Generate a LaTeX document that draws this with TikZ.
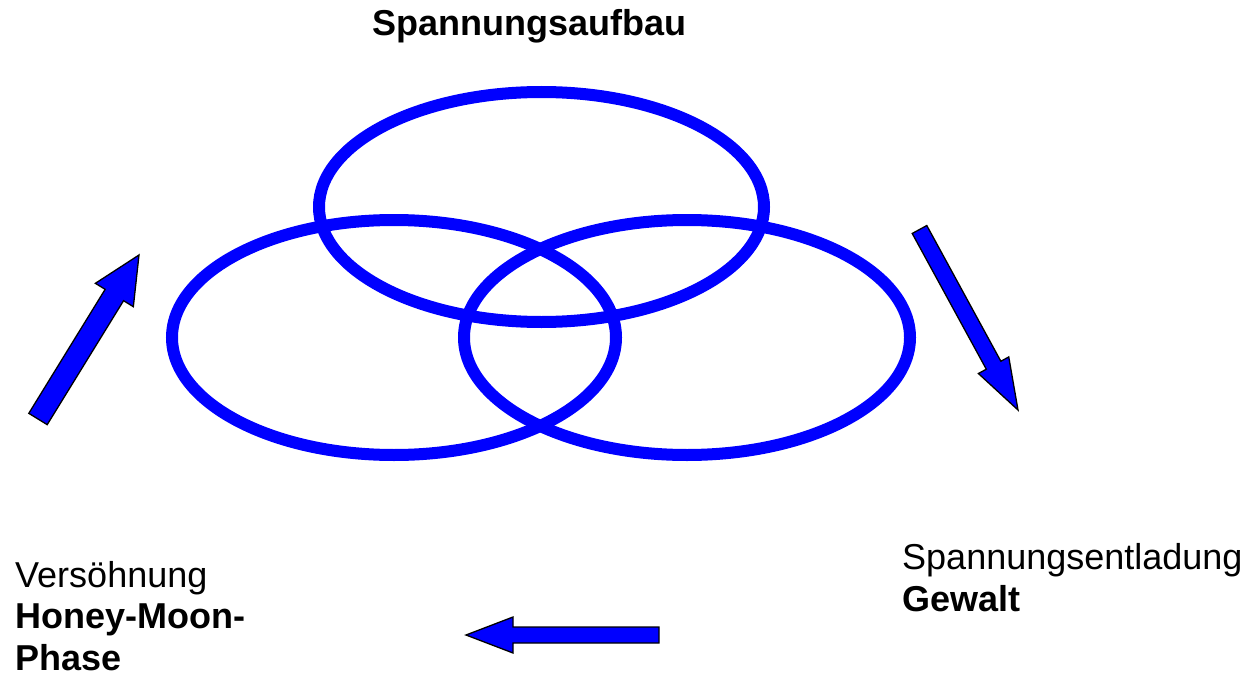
\documentclass[tikz,border=0pt]{standalone}
\usepackage{fontspec}
\setmainfont{Liberation Sans}
\usetikzlibrary{calc}
\definecolor{ringblue}{RGB}{0,0,255}
\tikzset{
  ring/.style={draw=ringblue, line width=12pt},
  blockarrow/.style={fill=ringblue, draw=black, line width=1.3pt, line join=miter},
  lbl/.style={anchor=base west, inner sep=0pt, align=left, font=\fontsize{36}{41.4}\selectfont}
}
% #1 tail, #2 tip, #3 half shaft width, #4 half head width, #5 head length
\newcommand{\blockarr}[5]{%
  \coordinate (#1-hb) at ($(#2)!#5!(#1)$);
  \draw[blockarrow] ($(#1)!#3!90:(#2)$) -- ($(#1-hb)!#3!-90:(#1)$) -- ($(#1-hb)!#4!-90:(#1)$)
     -- (#2) -- ($(#1-hb)!#4!90:(#1)$) -- ($(#1-hb)!#3!90:(#1)$) -- ($(#1)!#3!-90:(#2)$) -- cycle;
}
\begin{document}
\begin{tikzpicture}[x=1pt,y=-1pt]
\useasboundingbox (0,0) rectangle (1251,677);
% rings
\draw[ring] (541.5,207) ellipse [x radius=222.5pt, y radius=115pt];
\draw[ring] (394,337.5) ellipse [x radius=222pt, y radius=117.5pt];
\draw[ring] (687,337.5) ellipse [x radius=223pt, y radius=117.5pt];
% arrows
\coordinate (a1t) at (38,419);   \coordinate (a1h) at (139,255);
\coordinate (a2t) at (919.5,229.5); \coordinate (a2h) at (1018,410);
\coordinate (a3t) at (659,635);  \coordinate (a3h) at (466,635);
\blockarr{a1t}{a1h}{10.8pt}{22.3pt}{47pt}
\blockarr{a2t}{a2h}{8.3pt}{17.3pt}{51pt}
\blockarr{a3t}{a3h}{8pt}{18pt}{47pt}
% labels (base anchor = baseline of the last line)
\node[lbl] (top) at (372,36) {\bfseries Spannungsaufbau};
\node[lbl] (right) at (902,611) {Spannungsentladung\\\bfseries Gewalt};
\node[lbl] (left) at (15,670) {Versöhnung\\\bfseries Honey-Moon-\\\bfseries Phase};
\end{tikzpicture}
\end{document}
